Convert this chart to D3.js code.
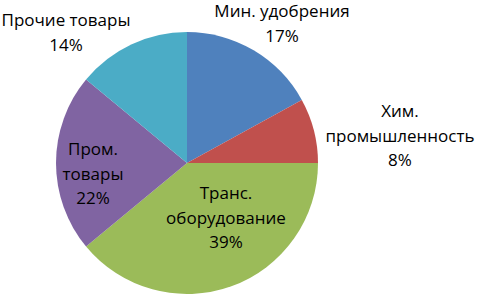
<!DOCTYPE html>
<html lang="ru">
<head>
<meta charset="utf-8">
<title>Pie</title>
<script src="https://d3js.org/d3.v7.min.js"></script>
<style>
  body { margin: 0; background: #fff; }
  .lbl { font: 17px "Open Sans", sans-serif; fill: #000; }
</style>
</head>
<body>
<svg width="478" height="297"></svg>
<script>
// data
var categories = ["Мин. удобрения", "Хим. промышленность", "Транс. оборудование", "Пром. товары", "Прочие товары"];
var values = [17, 8, 39, 22, 14];
var colors = ["#4f81bd", "#c0504d", "#9bbb59", "#8064a2", "#4bacc6"];
// label lines as shown in the chart
var labelLines = [
  ["Мин. удобрения", "17%"],
  ["Хим.", "промышленность", "8%"],
  ["Транс.", "оборудование", "39%"],
  ["Пром.", "товары", "22%"],
  ["Прочие товары", "14%"]
];

var cx = 187, cy = 163, r = 131;
// label block centers (x, first baseline)
var labelAt = [[282, 17], [400, 117], [226, 199], [93, 155], [66, 26]];

var svg = d3.select("svg");
var g = svg.append("g").attr("transform", "translate(" + cx + "," + cy + ")");

var pie = d3.pie().sort(null).value(function(d) { return d; });
var arc = d3.arc().innerRadius(0).outerRadius(r);

g.selectAll("path")
  .data(pie(values))
  .enter()
  .append("path")
    .attr("d", arc)
    .attr("fill", function(d, i) { return colors[i]; });

var lh = 24.5;
labelLines.forEach(function(lines, i) {
  var t = svg.append("text")
    .attr("class", "lbl")
    .attr("text-anchor", "middle");
  lines.forEach(function(s, j) {
    t.append("tspan")
      .attr("x", labelAt[i][0])
      .attr("y", labelAt[i][1] + j * lh)
      .text(s);
  });
});
</script>
</body>
</html>
